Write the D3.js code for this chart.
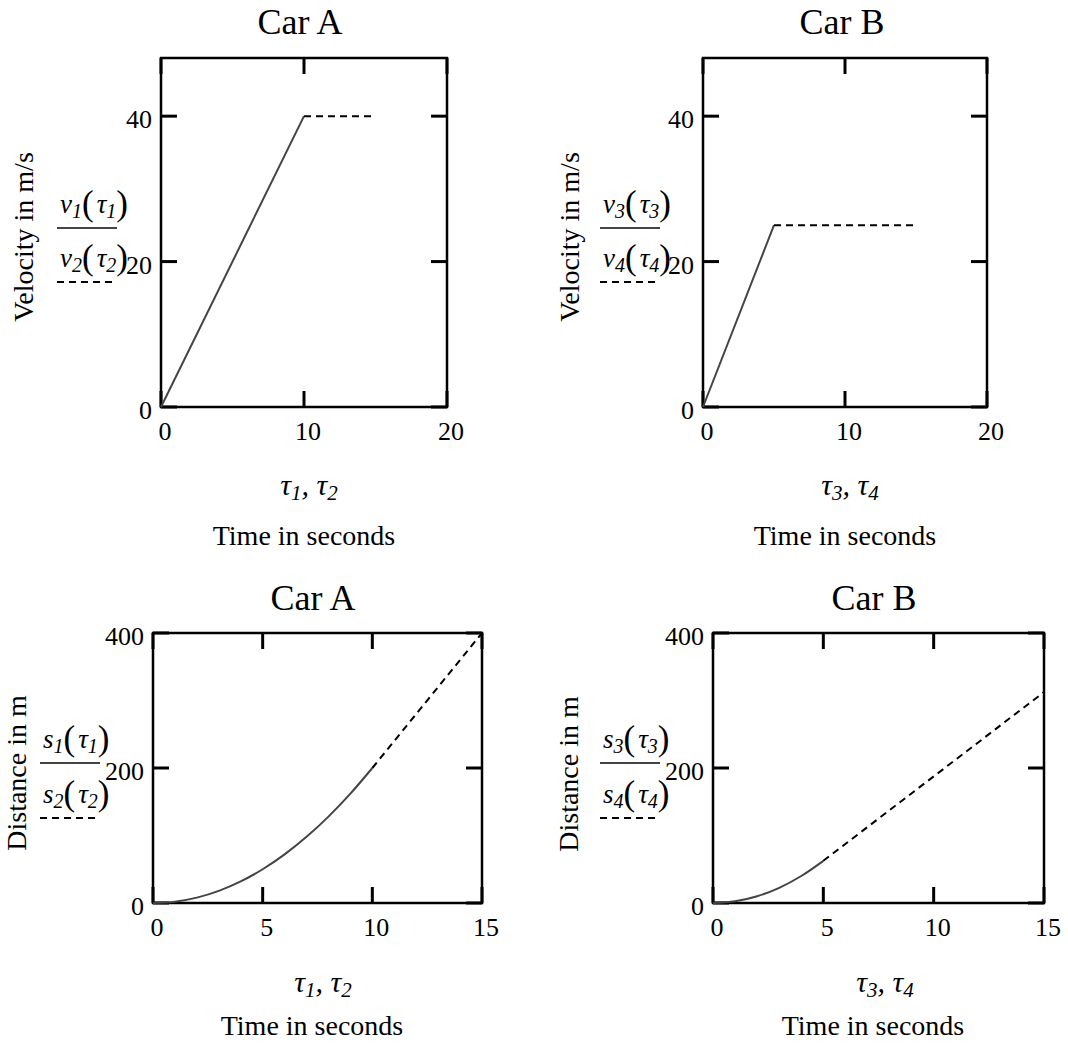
<!DOCTYPE html>
<html>
<head>
<meta charset="utf-8">
<script src="https://cdn.jsdelivr.net/npm/d3@7"></script>
<style>
  html, body { margin: 0; padding: 0; background: #fff; }
  svg { display: block; }
  text { font-family: "Liberation Serif", "Times New Roman", serif; fill: #000; }
</style>
</head>
<body>
<svg id="chart" width="1068" height="1051"></svg>
<script>
// ---------- data ----------
const titles = ["Car A", "Car B", "Car A", "Car B"];
const velTicksX = [0, 10, 20];
const velTicksY = [0, 20, 40];
const distTicksX = [0, 5, 10, 15];
const distTicksY = [0, 200, 400];

// Car A velocity
const carAVelT = [0, 10];
const carAVelV = [0, 40];
const carAVelDashT = [10, 15];
const carAVelDashV = [40, 40];
// Car B velocity
const carBVelT = [0, 5];
const carBVelV = [0, 25];
const carBVelDashT = [5, 15];
const carBVelDashV = [25, 25];
// Car A distance
const carADistT = [0, 1, 2, 3, 4, 5, 6, 7, 8, 9, 10];
const carADistS = [0, 2, 8, 18, 32, 50, 72, 98, 128, 162, 200];
const carADistDashT = [10, 15];
const carADistDashS = [200, 400];
// Car B distance
const carBDistT = [0, 1, 2, 3, 4, 5];
const carBDistS = [0, 2.5, 10, 22.5, 40, 62.5];
const carBDistDashT = [5, 15];
const carBDistDashS = [62.5, 312.5];

const zip = (a, b) => a.map((v, i) => [v, b[i]]);

const svg = d3.select("#chart");

const panels = [
  { title: titles[0], x0: 161, x1: 447, y0: 407, y1: 58, xd: [0, 20], yd: [0, 48],
    xt: velTicksX, yt: velTicksY, fn: "v", idx: [1, 2], ylab: "Velocity in m/s",
    solid: zip(carAVelT, carAVelV), dash: zip(carAVelDashT, carAVelDashV),
    titleX: 300, titleY: 34, yLabX: 23, yLabY: 237, legX: 57, legY: 228, legDY: 54,
    tauX: 309, tauY: 495, timeX: 304, timeY: 545 },
  { title: titles[1], x0: 703, x1: 987, y0: 407, y1: 58, xd: [0, 20], yd: [0, 48],
    xt: velTicksX, yt: velTicksY, fn: "v", idx: [3, 4], ylab: "Velocity in m/s",
    solid: zip(carBVelT, carBVelV), dash: zip(carBVelDashT, carBVelDashV),
    titleX: 842, titleY: 34, yLabX: 569, yLabY: 237, legX: 600, legY: 228, legDY: 54,
    tauX: 850, tauY: 495, timeX: 845, timeY: 545 },
  { title: titles[2], x0: 153, x1: 482, y0: 903, y1: 633, xd: [0, 15], yd: [0, 400],
    xt: distTicksX, yt: distTicksY, fn: "s", idx: [1, 2], ylab: "Distance in m",
    solid: zip(carADistT, carADistS), dash: zip(carADistDashT, carADistDashS),
    titleX: 313, titleY: 610, yLabX: 16, yLabY: 773, legX: 40, legY: 763, legDY: 55,
    tauX: 323, tauY: 992, timeX: 312, timeY: 1035 },
  { title: titles[3], x0: 713, x1: 1044, y0: 903, y1: 633, xd: [0, 15], yd: [0, 400],
    xt: distTicksX, yt: distTicksY, fn: "s", idx: [3, 4], ylab: "Distance in m",
    solid: zip(carBDistT, carBDistS), dash: zip(carBDistDashT, carBDistDashS),
    titleX: 874, titleY: 610, yLabX: 568, yLabY: 774, legX: 600, legY: 763, legDY: 55,
    tauX: 885, tauY: 992, timeX: 873, timeY: 1035 }
];

function funcLabel(g, x, y, fn, k) {
  const t = g.append("text").attr("x", x).attr("y", y).attr("font-size", 27);
  t.append("tspan").attr("font-style", "italic").text(fn);
  t.append("tspan").attr("font-style", "italic").attr("font-size", 20).attr("dy", 5).text(k);
  t.append("tspan").attr("font-size", 35).attr("dy", -3).text("(");
  t.append("tspan").attr("font-style", "italic").attr("dx", 3).attr("dy", -2).text("\u03C4");
  t.append("tspan").attr("font-style", "italic").attr("font-size", 20).attr("dy", 5).text(k);
  t.append("tspan").attr("font-size", 35).attr("dy", -3).text(")");
}

panels.forEach(p => {
  const g = svg.append("g");
  const x = d3.scaleLinear().domain(p.xd).range([p.x0, p.x1]);
  const y = d3.scaleLinear().domain(p.yd).range([p.y0, p.y1]);
  const TL = 16;

  // ticks inward on all four sides
  p.xt.forEach(v => {
    g.append("line").attr("x1", x(v)).attr("x2", x(v)).attr("y1", p.y0).attr("y2", p.y0 - TL)
      .attr("stroke", "#000").attr("stroke-width", 3);
    g.append("line").attr("x1", x(v)).attr("x2", x(v)).attr("y1", p.y1).attr("y2", p.y1 + TL)
      .attr("stroke", "#000").attr("stroke-width", 3);
    g.append("text").attr("x", x(v) + 4).attr("y", p.y0 + 33).attr("text-anchor", "middle")
      .attr("font-size", 26).text(v);
  });
  p.yt.forEach(v => {
    g.append("line").attr("x1", p.x0).attr("x2", p.x0 + TL).attr("y1", y(v)).attr("y2", y(v))
      .attr("stroke", "#000").attr("stroke-width", 3);
    g.append("line").attr("x1", p.x1).attr("x2", p.x1 - TL).attr("y1", y(v)).attr("y2", y(v))
      .attr("stroke", "#000").attr("stroke-width", 3);
    g.append("text").attr("x", p.x0 - 9).attr("y", y(v) + 12).attr("text-anchor", "end")
      .attr("font-size", 26).text(v);
  });

  // frame
  g.append("rect").attr("x", p.x0).attr("y", p.y1).attr("width", p.x1 - p.x0).attr("height", p.y0 - p.y1)
    .attr("fill", "none").attr("stroke", "#000").attr("stroke-width", 2.5);

  // series
  const line = d3.line().x(d => x(d[0])).y(d => y(d[1])).curve(d3.curveMonotoneX);
  g.append("path").datum(p.solid).attr("d", line).attr("fill", "none")
    .attr("stroke", "#444").attr("stroke-width", 2);
  g.append("path").datum(p.dash).attr("d", line).attr("fill", "none")
    .attr("stroke", "#000").attr("stroke-width", 2).attr("stroke-dasharray", "7,5");

  // title
  g.append("text").attr("x", p.titleX).attr("y", p.titleY).attr("text-anchor", "middle")
    .attr("font-size", 36).text(p.title);

  // y axis label
  g.append("text").attr("transform", `translate(${p.yLabX},${p.yLabY}) rotate(-90)`)
    .attr("text-anchor", "middle").attr("dominant-baseline", "central")
    .attr("font-size", 28).text(p.ylab);

  // legend
  funcLabel(g, p.legX + 3, p.legY - 15, p.fn, p.idx[0]);
  g.append("line").attr("x1", p.legX).attr("x2", p.legX + 60).attr("y1", p.legY).attr("y2", p.legY)
    .attr("stroke", "#444").attr("stroke-width", 2);
  funcLabel(g, p.legX + 3, p.legY + p.legDY - 15, p.fn, p.idx[1]);
  g.append("line").attr("x1", p.legX).attr("x2", p.legX + 56).attr("y1", p.legY + p.legDY).attr("y2", p.legY + p.legDY)
    .attr("stroke", "#000").attr("stroke-width", 2).attr("stroke-dasharray", "7,5");

  // x variable label
  const t = g.append("text").attr("x", p.tauX).attr("y", p.tauY).attr("text-anchor", "middle")
    .attr("font-size", 30).attr("font-style", "italic");
  t.append("tspan").text("\u03C4");
  t.append("tspan").attr("font-size", 21).attr("dy", 5).text(p.idx[0]);
  t.append("tspan").attr("dy", -5).text(", \u03C4");
  t.append("tspan").attr("font-size", 21).attr("dy", 5).text(p.idx[1]);

  // x axis title
  g.append("text").attr("x", p.timeX).attr("y", p.timeY).attr("text-anchor", "middle")
    .attr("font-size", 28).text("Time in seconds");
});
</script>
</body>
</html>
